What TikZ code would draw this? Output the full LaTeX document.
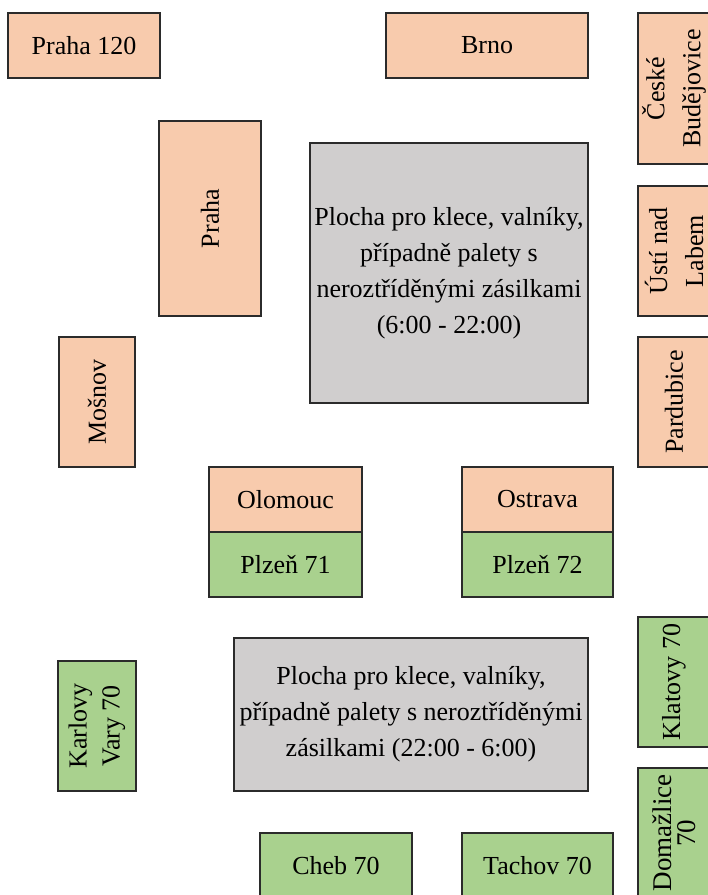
\documentclass[tikz,border=0pt]{standalone}
\usepackage{fontspec}
\setmainfont{Liberation Serif}
\definecolor{peach}{HTML}{F8CBAD}
\definecolor{leaf}{HTML}{A9D18E}
\definecolor{yardgray}{HTML}{D0CECE}
\definecolor{edge}{HTML}{2B2B2B}
\begin{document}
\begin{tikzpicture}[x=1pt,y=-1pt,
  bay/.style={draw=edge, line width=1.3pt, inner sep=0pt, outer sep=0pt,
    align=center, text=black, font=\fontsize{26}{36}\selectfont},
  depot/.style={bay, fill=peach},
  lane/.style={bay, fill=leaf},
  yard/.style={bay, fill=yardgray},
  upright/.style={rotate=90}]
\useasboundingbox (0,0) rectangle (708,895);

% top row
\node[depot, anchor=north west, minimum width=152, minimum height=65] (p120) at (8,13) {Praha 120};
\node[depot, anchor=north west, minimum width=202, minimum height=65] (brno) at (386,13) {Brno};

% right-hand column (runs past the edge)
\node[depot, upright, minimum width=151, minimum height=72,
  font=\fontsize{26}{36}\selectfont] (cb) at (674,88.5) {České\\Budějovice};
\node[depot, upright, minimum width=130, minimum height=72,
  font=\fontsize{26}{36}\selectfont] (usti) at (674,251) {Ústí nad\\Labem};
\node[depot, upright, minimum width=130, minimum height=72] (pard) at (674,402) {Pardubice};
\node[lane, upright, minimum width=130, minimum height=72] (klat) at (674,682) {Klatovy 70};
\node[lane, upright, minimum width=130, minimum height=72,
  font=\fontsize{27}{24}\selectfont] (doma) at (674,833) {Domažlice\\70};

% left side
\node[depot, upright, minimum width=195, minimum height=102] (praha) at (210,218.5) {Praha};
\node[depot, upright, minimum width=130, minimum height=76] (mosnov) at (97,402) {Mošnov};
\node[lane, upright, minimum width=130, minimum height=78,
  font=\fontsize{26}{33}\selectfont] (kv) at (97,726) {Karlovy\\Vary 70};

% storage areas
\node[yard, anchor=north west, minimum width=278, minimum height=260] (day) at (310,143)
  {Plocha pro klece, valníky,\\případně palety s\\neroztříděnými zásilkami\\(6:00 - 22:00)};
\node[yard, anchor=north west, minimum width=354, minimum height=153] (night) at (234,638)
  {Plocha pro klece, valníky,\\případně palety s neroztříděnými\\zásilkami (22:00 - 6:00)};

% paired middle bays
\node[depot, anchor=north west, minimum width=153, minimum height=65] (olom) at (209,467) {Olomouc};
\node[lane, anchor=north west, minimum width=153, minimum height=65] (pl71) at (209,532) {Plzeň 71};
\node[depot, anchor=north west, minimum width=151, minimum height=65] (ostr) at (462,467) {Ostrava};
\node[lane, anchor=north west, minimum width=151, minimum height=65] (pl72) at (462,532) {Plzeň 72};

% bottom row
\node[lane, anchor=north west, minimum width=152, minimum height=66] (cheb) at (260,833) {Cheb 70};
\node[lane, anchor=north west, minimum width=151, minimum height=66] (tach) at (462,833) {Tachov 70};
\end{tikzpicture}
\end{document}
